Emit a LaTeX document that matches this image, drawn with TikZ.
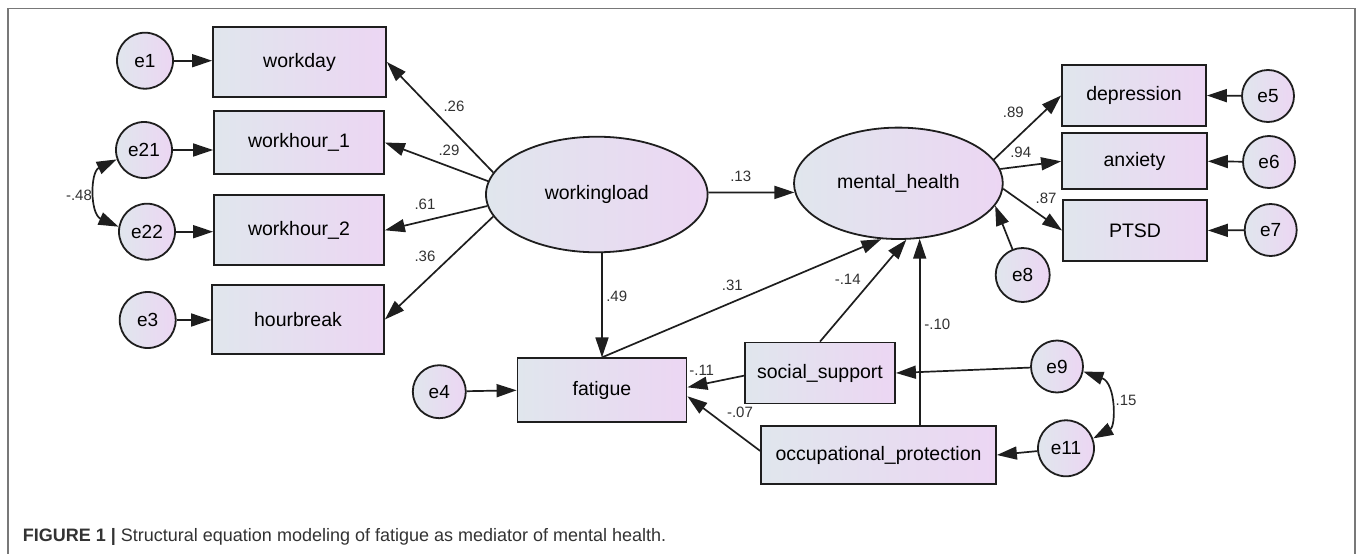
\documentclass[tikz,border=0pt]{standalone}
\usepackage{fontspec}
\setmainfont{Liberation Sans}
\usetikzlibrary{arrows.meta,shapes.geometric,calc}
\definecolor{lc}{RGB}{224,230,237}
\definecolor{rc}{RGB}{236,214,243}
\definecolor{ln}{RGB}{30,30,30}
\definecolor{lab}{RGB}{50,50,50}
\definecolor{frm}{RGB}{120,120,120}
\tikzset{
  obs/.style={rectangle, draw=ln, line width=1.8pt, left color=lc, right color=rc, inner sep=0pt, font=\fontsize{19.5}{23}\selectfont},
  lat/.style={ellipse, draw=ln, line width=1.8pt, left color=lc, right color=rc, inner sep=0pt, font=\fontsize{19.5}{23}\selectfont},
  err/.style={circle, draw=ln, line width=1.8pt, left color=lc, right color=rc, inner sep=0pt, font=\fontsize{19}{23}\selectfont},
  arr/.style={line width=1.7pt, draw=ln, -{Triangle[length=20pt,width=13pt]}},
  darr/.style={line width=1.7pt, draw=ln, {Triangle[length=20pt,width=13pt]}-{Triangle[length=20pt,width=13pt]}},
  coef/.style={font=\fontsize{15}{18}\selectfont, text=lab, inner sep=0pt},
}
\begin{document}
\begin{tikzpicture}[x=1pt,y=1pt]
\useasboundingbox (0,0) rectangle (1358,-554);
\fill[white] (0,0) rectangle (1358,-554);
\draw[frm, line width=1.3pt] (8,-554) -- (8,-8.5) -- (1355,-8.5) -- (1355,-554);

% observed variables
\node[obs, minimum width=173pt, minimum height=70pt] (workday) at (299.5,-62) {workday};
\node[obs, minimum width=170pt, minimum height=63pt] (wh1) at (299,-142.5) {workhour\_1};
\node[obs, minimum width=170pt, minimum height=70pt] (wh2) at (299,-230.3) {workhour\_2};
\node[obs, minimum width=172pt, minimum height=69pt] (hb) at (298,-319.5) {hourbreak};
\node[obs, minimum width=169pt, minimum height=64pt] (fat) at (602,-390.3) {fatigue};
\node[obs, minimum width=150pt, minimum height=61pt] (ss) at (820,-373) {social\_support};
\node[obs, minimum width=235pt, minimum height=58pt] (op) at (878.5,-455) {occupational\_protection};
\node[obs, minimum width=144pt, minimum height=61pt] (dep) at (1134,-95.5) {depression};
\node[obs, minimum width=145pt, minimum height=56pt] (anx) at (1134.5,-161.3) {anxiety};
\node[obs, minimum width=144pt, minimum height=61pt] (ptsd) at (1135,-230.5) {PTSD};

% latent variables
\node[lat, minimum width=221.6pt, minimum height=115.6pt] (wl) at (596.8,-194.5) {workingload};
\node[lat, minimum width=208.8pt, minimum height=111.4pt] (mh) at (898.4,-183.3) {mental\_health};

% error terms
\node[err, minimum size=56pt] (e1) at (145,-60.7) {e1};
\node[err, minimum size=56pt] (e21) at (144,-150) {e21};
\node[err, minimum size=56pt] (e22) at (147,-231.7) {e22};
\node[err, minimum size=56pt] (e3) at (147.7,-320) {e3};
\node[err, minimum size=53pt] (e4) at (439.3,-391.7) {e4};
\node[err, minimum size=52pt] (e5) at (1268,-96) {e5};
\node[err, minimum size=52pt] (e6) at (1269,-162) {e6};
\node[err, minimum size=52pt] (e7) at (1270.7,-230) {e7};
\node[err, minimum size=54pt] (e8) at (1022.7,-275) {e8};
\node[err, minimum size=52pt] (e9) at (1057,-366.5) {e9};
\node[err, minimum size=56pt] (e11) at (1066,-448.3) {e11};

% error arrows
\draw[arr] (e1) -- (e1 -| workday.west);
\draw[arr] (e21) -- (e21 -| wh1.west);
\draw[arr] (e22) -- (e22 -| wh2.west);
\draw[arr] (e3) -- (e3 -| hb.west);
\draw[arr] (e4) -- (fat.west);
\draw[arr] (e5) -- (dep.east);
\draw[arr] (e6) -- (anx.east);
\draw[arr] (e7) -- (ptsd.east);
\draw[arr] (e8) -- (mh.-13);
\draw[arr] (e9) -- (ss.east);
\draw[arr] (e11) -- (op.east);

% loadings
\draw[arr] (wl.168.6) -- (workday.east);
\draw[arr] (wl.173.6) -- (wh1.east);
\draw[arr] (wl.186.7) -- (wh2.east);
\draw[arr] (wl.192.2) -- (hb.east);
\draw[arr] (mh.14.7) -- (dep.west);
\draw[arr] (mh.8.4) -- (anx.west);
\draw[arr] (mh.-3.7) -- (ptsd.west);

% structural paths
\draw[arr] (wl.1) -- (mh.185);
\draw[arr] (wl.south -| fat.north) -- (fat.north);
\draw[arr] (fat.north) -- (mh.253);
\draw[arr] (ss.north) -- (mh.278.6);
\draw[arr] (op.north -| mh.291.5) -- (mh.291.5);
\draw[arr] (ss.182.3) -- (fat.2.4);
\draw[arr] (op.178.4) -- (fat.-4.3);

% covariances
\draw[darr] (e21.199) .. controls (90,-172) and (90,-214) .. (e22.170);
\draw[darr] (e9.349) .. controls (1116,-383) and (1116,-426) .. (e11.20);

% coefficients
\node[coef] (c26) at (454,-106) {.26};
\node[coef] (c29) at (449,-150.7) {.29};
\node[coef] (c61) at (425,-204) {.61};
\node[coef] (c36) at (425,-256) {.36};
\node[coef] (c48) at (79,-195) {-.48};
\node[coef] (c13) at (740.7,-176.7) {.13};
\node[coef] (c49) at (616.7,-296.7) {.49};
\node[coef] (c31) at (732.3,-285) {.31};
\node[coef] (c14) at (847.7,-279.3) {-.14};
\node[coef] (c10) at (937.3,-324.3) {-.10};
\node[coef] (c11) at (701.7,-370.7) {-.11};
\node[coef] (c07) at (740,-412) {-.07};
\node[coef] (c15) at (1126,-400) {.15};
\node[coef] (c89) at (1013.3,-112.7) {.89};
\node[coef] (c94) at (1020.7,-152.7) {.94};
\node[coef] (c87) at (1046,-198.3) {.87};

% caption
\node[anchor=base west, inner sep=0pt, font=\fontsize{18}{21}\selectfont, text=black!80] (cap) at (22.7,-541.7) {\textbf{FIGURE 1 |} Structural equation modeling of fatigue as mediator of mental health.};
\end{tikzpicture}
\end{document}
